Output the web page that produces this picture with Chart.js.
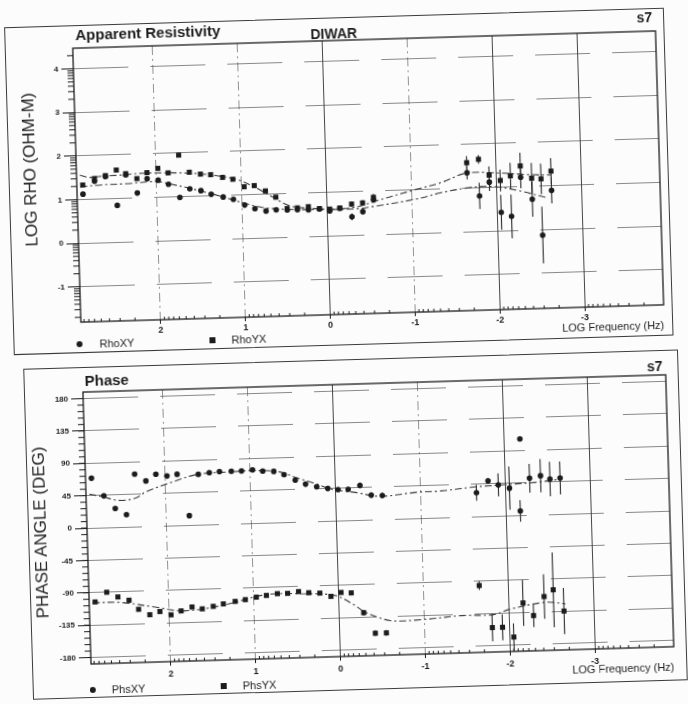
<!DOCTYPE html>
<html>
<head>
<meta charset="utf-8">
<script src="https://cdn.jsdelivr.net/npm/chart.js@4.4.0/dist/chart.umd.min.js"></script>
<style>
  html, body { margin: 0; padding: 0; background: #fcfcfc; }
  body { width: 688px; height: 704px; overflow: hidden; position: relative;
         font-family: 'Liberation Sans', Arial, sans-serif; color: #1e1e1e; }
  /* the scanned sheet is slightly turned, so the whole page is turned too */
  #page { position: absolute; left: 0; top: 0; width: 688px; height: 704px;
          transform: rotate(-1.7deg); transform-origin: 86px 360px; }
  .panel { position: absolute; border: 1px solid #3c3c3c; }
  canvas { position: absolute; left: 0; }
  .t { position: absolute; white-space: nowrap; line-height: 1; }
  .title { font-weight: bold; font-size: 15px; }
  .ylab { font-size: 17px; transform: translate(-50%, -50%) rotate(-90deg); }
  .xlab { font-size: 11px; }
  .leg { font-size: 11px; }
  .dot { position: absolute; width: 6px; height: 6px; border-radius: 50%; background: #1c1c1c; }
  .sq  { position: absolute; width: 6px; height: 6px; background: #1c1c1c; }
</style>
</head>
<body>
<div id="page">
  <div class="panel" style="left:14px; top:25px; width:658px; height:326px;"></div>
  <div class="panel" style="left:23px; top:367px; width:653px; height:329px;"></div>

  <canvas id="rhoChart" width="680" height="300" style="top:40px;"></canvas>
  <canvas id="phsChart" width="680" height="298" style="top:384px;"></canvas>

  <!-- panneau résistivité -->
  <div class="t title" style="left:85px; top:27px;">Apparent Resistivity</div>
  <div class="t" style="left:320px; top:34px; font-size:14px; font-weight:bold;">DIWAR</div>
  <div class="t" style="right:26px; top:27px; font-size:14px; font-weight:bold;">s7</div>
  <div class="t ylab" style="left:35px; top:168px;">LOG RHO (OHM-M)</div>
  <div class="t xlab" style="right:23px; top:337px;">LOG Frequency (Hz)</div>
  <div class="dot" style="left:77px; top:341px;"></div>
  <div class="t leg" style="left:100px; top:339px;">RhoXY</div>
  <div class="sq" style="left:210px; top:341px;"></div>
  <div class="t leg" style="left:232px; top:339px;">RhoYX</div>

  <!-- panneau phase -->
  <div class="t title" style="left:84px; top:373px;">Phase</div>
  <div class="t" style="right:26px; top:376px; font-size:14px; font-weight:bold;">s7</div>
  <div class="t ylab" style="left:35px; top:531px;">PHASE ANGLE (DEG)</div>
  <div class="t xlab" style="right:23px; top:679px;">LOG Frequency (Hz)</div>
  <div class="dot" style="left:80px; top:687px;"></div>
  <div class="t leg" style="left:102px; top:685px;">PhsXY</div>
  <div class="sq" style="left:211px; top:687px;"></div>
  <div class="t leg" style="left:233px; top:685px;">PhsYX</div>
</div>

<script>
const logFreq = [2.87, 2.73, 2.60, 2.47, 2.36, 2.23, 2.11, 1.98, 1.86, 1.73,
                 1.61, 1.48, 1.36, 1.22, 1.10, 0.97, 0.85, 0.72, 0.60, 0.47,
                 0.35, 0.22, 0.09, -0.03, -0.15, -0.29, -0.42, -0.55,
                 -1.66, -1.80, -1.92, -2.05, -2.17, -2.29, -2.42, -2.53, -2.65];

// ---- Résistivité apparente (log10 ohm.m) ----
const rhoXY = [1.12, 1.41, 1.51, 0.84, 1.53, 1.11, 1.43, 1.39, 1.29, 0.98,
               1.17, 1.12, 1.03, 0.96, 0.90, 0.76, 0.67, 0.61, 0.63, 0.62,
               0.62, 0.61, 0.62, 0.57, 0.62, 0.42, 0.53, 0.79,
               1.35, 0.81, 1.12, 0.42, 0.32, 1.21, 0.70, -0.13, 0.89];
const rhoXYErr = [0.02, 0.02, 0.02, 0.02, 0.02, 0.02, 0.02, 0.02, 0.02, 0.02,
                  0.02, 0.02, 0.02, 0.02, 0.02, 0.02, 0.02, 0.03, 0.03, 0.03,
                  0.03, 0.03, 0.03, 0.04, 0.04, 0.08, 0.06, 0.06,
                  0.15, 0.30, 0.20, 0.40, 0.50, 0.25, 0.40, 0.65, 0.30];
const rhoYX = [1.33, 1.47, 1.53, 1.65, 1.56, 1.44, 1.57, 1.66, 1.55, 1.95,
               1.55, 1.50, 1.48, 1.41, 1.36, 1.18, 1.20, 1.07, 0.92, 0.65,
               0.66, 0.68, 0.63, 0.61, 0.63, 0.71, 0.73, 0.85,
               1.58, 1.65, 1.28, 1.15, 1.25, 1.47, 1.18, 1.16, 1.33];
const rhoYXErr = [0.02, 0.02, 0.02, 0.02, 0.02, 0.02, 0.02, 0.02, 0.02, 0.02,
                  0.02, 0.02, 0.02, 0.02, 0.02, 0.02, 0.02, 0.03, 0.03, 0.03,
                  0.03, 0.03, 0.03, 0.04, 0.04, 0.06, 0.06, 0.08,
                  0.15, 0.10, 0.20, 0.25, 0.30, 0.30, 0.35, 0.35, 0.30];

// ---- Courbes modèles (résistivité) ----
const modelRhoXYFreq = [2.90, 2.65, 2.35, 2.00, 1.85, 1.55, 1.25, 0.95, 0.75, 0.45,
                        -0.05, -0.35, -0.55, -1.05, -1.35, -1.65, -1.95, -2.25, -2.60];
const modelRhoXY     = [1.29, 1.32, 1.33, 1.36, 1.30, 1.15, 0.98, 0.79, 0.69, 0.63,
                        0.60, 0.60, 0.64, 0.78, 0.91, 1.00, 1.02, 0.91, 0.72];
const modelRhoYXFreq = [2.90, 2.80, 2.65, 2.45, 2.15, 1.85, 1.55, 1.25, 1.05, 0.85,
                        0.65, 0.45, 0.25, -0.05, -0.35, -0.55, -1.05, -1.35, -1.65,
                        -2.05, -2.35, -2.65];
const modelRhoYX     = [1.56, 1.50, 1.52, 1.53, 1.56, 1.55, 1.52, 1.44, 1.35, 1.17,
                        0.94, 0.72, 0.65, 0.61, 0.64, 0.75, 1.00, 1.14, 1.34,
                        1.32, 1.27, 1.24];

// ---- Phase (degrés) ----
const phsXY = [69, 44, 26, 17, 73, 63, 72, 69, 71, 13,
               70, 72, 73, 73, 73, 74, 72, 71, 66, 58,
               52, 48, 45, 43, 43, 48, 34, 33,
               33, 49, 43, 38, 6, 51, 54, 49, 50];
const phsXYErr = [1, 1, 1, 1, 1, 1, 1, 1, 1, 1,
                  1, 1, 1, 1, 1, 1, 1, 1, 1, 2,
                  2, 2, 2, 2, 3, 4, 4, 4,
                  11, 4, 16, 30, 15, 20, 23, 24, 23];
const phsXYExtraFreq = [-2.19];
const phsXYExtra     = [106];
const phsYX = [-103, -90, -97, -102, -115, -123, -119, -124, -119, -114,
               -117, -114, -111, -108, -106, -103, -101, -99, -99, -97,
               -99, -100, -105, -100, -101, -129, -158, -158,
               -96, -155, -155, -169, -122, -140, -114, -105, -135];
const phsYXErr = [1, 1, 1, 1, 1, 1, 1, 1, 1, 1,
                  1, 1, 1, 1, 1, 1, 1, 1, 1, 2,
                  2, 2, 2, 3, 3, 4, 4, 4,
                  6, 19, 18, 19, 32, 16, 31, 52, 32];

// ---- Courbes modèles (phase) ----
const modelPhsXYFreq = [2.90, 2.75, 2.55, 2.35, 2.23, 1.93, 1.62, 1.26, 0.95, 0.65,
                        0.45, 0.25, 0.05, -0.25, -0.52, -0.95, -1.25, -1.62, -2.00,
                        -2.36, -2.63];
const modelPhsXY     = [47, 43, 37, 40, 48, 60, 70, 72, 73, 70,
                        61, 53, 44, 38, 32, 36, 37, 41, 43, 45, 48];
const modelPhsYXFreq = [2.90, 2.55, 2.15, 1.83, 1.37, 0.86, 0.45, 0.04, -0.17, -0.32,
                        -0.60, -0.98, -1.45, -1.82, -2.02, -2.44, -2.67];
const modelPhsYX     = [-104, -105, -113, -119, -113, -100, -100, -104, -117, -129,
                        -141, -141, -137, -137, -130, -122, -125];

// décades tracées en trait plein (les autres en tireté)
const solidDecades = [0, -2, -3];

const INK  = '#1c1c1c';
const FONT = "'Liberation Sans', Arial, sans-serif";

const toPts = (xs, ys) => xs.map((x, i) => ({ x, y: ys[i] }));

// Barres d'erreur : segments verticaux séparés par des trous (y = null)
function errorPts(xs, ys, es) {
    const pts = [];
    xs.forEach((x, i) => {
        pts.push({ x, y: ys[i] - es[i] }, { x, y: ys[i] + es[i] }, { x, y: null });
    });
    return pts;
}

// Cadre du graphique + petites graduations
const frameMinor = {
    id: 'frameMinor',
    afterDraw(chart, args, opts) {
        const { ctx, chartArea: a, scales: { x, y } } = chart;
        ctx.save();
        ctx.strokeStyle = INK;
        ctx.lineWidth = 1;
        ctx.beginPath();
        opts.yMinor.forEach(v => {
            const py = y.getPixelForValue(v);
            if (py > a.top && py < a.bottom) {
                ctx.moveTo(a.left - 6, py);
                ctx.lineTo(a.left, py);
            }
        });
        opts.xMinor.forEach(v => {
            const px = x.getPixelForValue(v);
            if (px > a.left && px < a.right) {
                ctx.moveTo(px, a.bottom);
                ctx.lineTo(px, a.bottom - 3);
            }
        });
        ctx.stroke();
        ctx.lineWidth = 1.3;
        ctx.strokeRect(a.left, a.top, a.right - a.left, a.bottom - a.top);
        ctx.restore();
    }
};

const logMinor = (from, to) => {
    const out = [];
    for (let d = from; d < to; d++)
        for (let k = 2; k <= 9; k++) out.push(d + Math.log10(k));
    return out;
};

const isSolid = (c) => c.tick && solidDecades.includes(c.tick.value);

function makeChart(canvasId, p) {
    const markers = (xs, ys, style, r) => ({
        data: toPts(xs, ys), showLine: false,
        pointStyle: style, pointRadius: r, pointHoverRadius: r,
        pointBackgroundColor: INK, pointBorderColor: INK, pointBorderWidth: 0
    });
    const bars = (xs, ys, es) => ({
        data: errorPts(xs, ys, es), showLine: true, spanGaps: false,
        borderColor: '#2a2a2a', borderWidth: 1.1, pointRadius: 0
    });
    const model = (xs, ys) => ({
        data: toPts(xs, ys), showLine: true, tension: 0.35,
        borderColor: '#3a3a3a', borderWidth: 1.1, borderDash: [7, 3, 2, 3],
        pointRadius: 0
    });

    return new Chart(document.getElementById(canvasId), {
        type: 'scatter',
        data: {
            datasets: [
                markers(p.xyFreq, p.xy, 'circle', 2.8),
                markers(logFreq, p.yx, 'rect', 3.6),
                bars(logFreq, p.xy, p.xyErr),
                bars(logFreq, p.yx, p.yxErr),
                model(p.mXYFreq, p.mXY),
                model(p.mYXFreq, p.mYX)
            ]
        },
        options: {
            responsive: false,
            animation: false,
            layout: { padding: { top: 8, right: 15, left: 0, bottom: 0 } },
            plugins: {
                legend : { display: false },
                tooltip: { enabled: false },
                frameMinor: { yMinor: p.yMinor, xMinor: logMinor(-4, 3) }
            },
            scales: {
                x: {
                    type: 'linear', reverse: true, min: -3.93, max: 2.94,
                    afterFit: (s) => { s.height = 18; },
                    ticks: {
                        stepSize: 1, includeBounds: false, padding: p.xPad,
                        color: INK, font: { family: FONT, size: 9, weight: 'bold' }
                    },
                    grid: {
                        color: (c) => isSolid(c) ? 'rgba(25,25,25,0.8)' : 'rgba(60,60,60,0.55)',
                        lineWidth: 1, tickColor: INK, tickLength: 4
                    },
                    border: {
                        display: false,
                        dash: (c) => isSolid(c) ? [] : [9, 4, 2, 4]
                    }
                },
                y: {
                    type: 'linear', min: p.yMin, max: p.yMax,
                    afterFit: (s) => { s.width = 82; },
                    ticks: {
                        stepSize: p.yStep, includeBounds: false, padding: 3,
                        color: INK, font: { family: FONT, size: 8, weight: 'bold' }
                    },
                    grid: {
                        color: 'rgba(60,60,60,0.6)', lineWidth: 1,
                        tickColor: INK, tickLength: 12
                    },
                    border: { display: false, dash: [55, 22] }
                }
            }
        },
        plugins: [frameMinor]
    });
}

// Graphique 1 — résistivité apparente
makeChart('rhoChart', {
    xyFreq: logFreq, xy: rhoXY, xyErr: rhoXYErr,
    yx: rhoYX, yxErr: rhoYXErr,
    mXYFreq: modelRhoXYFreq, mXY: modelRhoXY,
    mYXFreq: modelRhoYXFreq, mYX: modelRhoYX,
    yMin: -1.81, yMax: 4.47, yStep: 1, xPad: 1,
    yMinor: logMinor(-2, 5)
});

// Graphique 2 — phase (le point isolé PhsXY est ajouté à la série)
const phaseMinor = [];
for (let v = -180; v <= 180; v += 9) phaseMinor.push(v);
makeChart('phsChart', {
    xyFreq: logFreq.concat(phsXYExtraFreq), xy: phsXY.concat(phsXYExtra),
    xyErr: phsXYErr, yx: phsYX, yxErr: phsYXErr,
    mXYFreq: modelPhsXYFreq, mXY: modelPhsXY,
    mYXFreq: modelPhsYXFreq, mYX: modelPhsYX,
    yMin: -189, yMax: 189, yStep: 45, xPad: 3,
    yMinor: phaseMinor
});
</script>
</body>
</html>
